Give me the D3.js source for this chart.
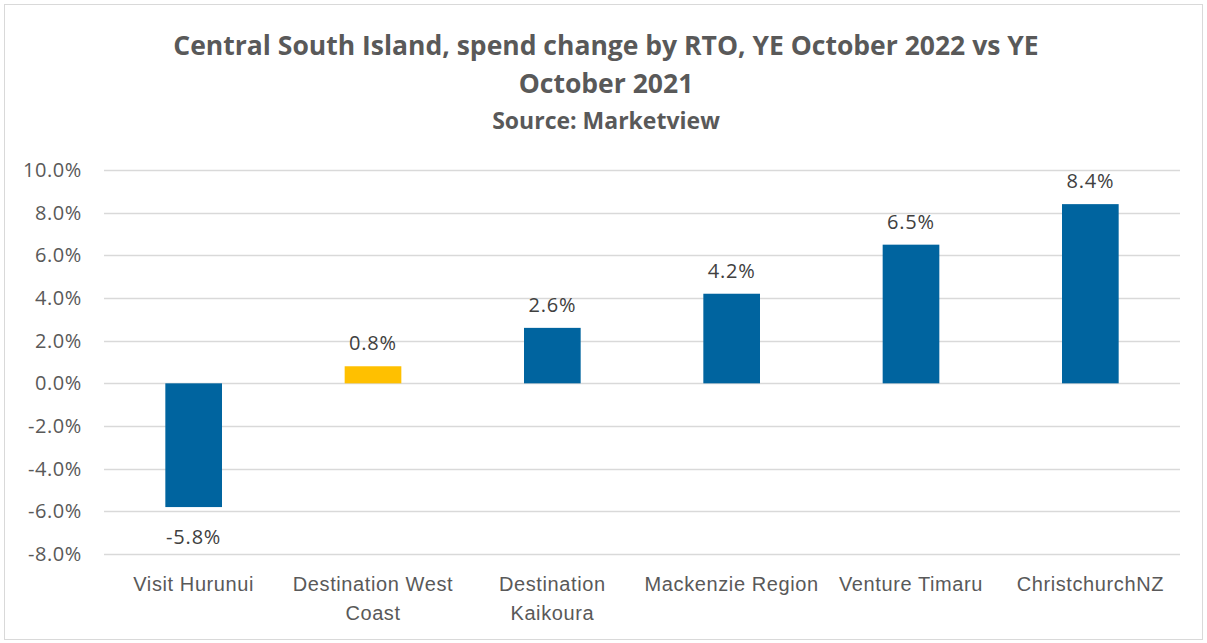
<!DOCTYPE html>
<html>
<head>
<meta charset="utf-8">
<script src="https://cdn.jsdelivr.net/npm/d3@7"></script>
<style>
  body { margin: 0; background: #fff; }
  svg { display: block; font-family: "Open Sans", "Noto Sans", sans-serif; }
</style>
</head>
<body>
<svg id="chart"></svg>
<script>
// data
const categories = ["Visit Hurunui", "Destination West Coast", "Destination Kaikoura",
  "Mackenzie Region", "Venture Timaru", "ChristchurchNZ"];
const values = [-5.8, 0.8, 2.6, 4.2, 6.5, 8.4];
const highlight = ["Destination West Coast"];
const yTicks = [-8, -6, -4, -2, 0, 2, 4, 6, 8, 10];

const W = 1207, H = 643;
const margin = { top: 170, right: 27, bottom: 89, left: 104 };

const svg = d3.select("#chart").attr("width", W).attr("height", H);

// chart border
svg.append("rect")
  .attr("x", 4.5).attr("y", 4.5)
  .attr("width", W - 9).attr("height", H - 8)
  .attr("fill", "#fff")
  .attr("stroke", "#d9d9d9");

// title
const title = svg.append("g").attr("text-anchor", "middle").attr("fill", "#595959")
  .style("font-weight", "bold");
title.append("text").attr("x", 606).attr("y", 55)
  .style("font-size", "26.5px")
  .text("Central South Island, spend change by RTO, YE October 2022 vs YE");
title.append("text").attr("x", 606).attr("y", 93)
  .style("font-size", "26.5px")
  .text("October 2021");
title.append("text").attr("x", 606).attr("y", 129)
  .style("font-size", "23px")
  .text("Source: Marketview");

const x = d3.scaleBand()
  .domain(categories)
  .range([margin.left, W - margin.right])
  .paddingInner(0.684)
  .paddingOuter(0.342);

const y = d3.scaleLinear()
  .domain([-8, 10])
  .range([H - margin.bottom, margin.top]);

// gridlines
svg.append("g")
  .selectAll("line")
  .data(yTicks)
  .join("line")
  .attr("x1", margin.left).attr("x2", W - margin.right)
  .attr("y1", d => Math.round(y(d)) + 0.5).attr("y2", d => Math.round(y(d)) + 0.5)
  .attr("stroke", "#d9d9d9").attr("stroke-width", 1.5);

// y axis labels
const yAxis = svg.append("g")
  .attr("transform", `translate(${margin.left - 22},0)`)
  .call(d3.axisLeft(y).tickValues(yTicks).tickSize(0).tickPadding(0)
    .tickFormat(d => d.toFixed(1) + "%"));
yAxis.select(".domain").remove();
yAxis.selectAll("text")
  .attr("fill", "#595959")
  .style("font-size", "20px")
  .style("letter-spacing", "0.6px")
  .style("font-family", "'Open Sans', sans-serif");

// bars
svg.append("g")
  .selectAll("rect")
  .data(values)
  .join("rect")
  .attr("x", (d, i) => x(categories[i]))
  .attr("width", x.bandwidth())
  .attr("y", d => y(Math.max(0, d)))
  .attr("height", d => Math.abs(y(d) - y(0)))
  .attr("fill", (d, i) => highlight.includes(categories[i]) ? "#FFC000" : "#00649F");

// data labels
svg.append("g")
  .selectAll("text")
  .data(values)
  .join("text")
  .attr("x", (d, i) => x(categories[i]) + x.bandwidth() / 2)
  .attr("y", d => d >= 0 ? y(d) - 16 : y(d) + 37)
  .attr("text-anchor", "middle")
  .attr("fill", "#404040")
  .style("font-size", "20px")
  .style("letter-spacing", "0.8px")
  .text(d => d.toFixed(1) + "%");

// x axis labels
const xAxis = svg.append("g")
  .attr("transform", `translate(0,${H - margin.bottom})`)
  .call(d3.axisBottom(x).tickSize(0).tickPadding(0));
xAxis.select(".domain").remove();
xAxis.selectAll("text").remove();

const wrapped = {
  "Destination West Coast": ["Destination West", "Coast"],
  "Destination Kaikoura": ["Destination", "Kaikoura"]
};
xAxis.selectAll(".tick").each(function (d) {
  const lines = wrapped[d] || [d];
  const t = d3.select(this).append("text")
    .attr("text-anchor", "middle")
    .attr("fill", "#595959")
    .style("font-size", "20px")
    .style("letter-spacing", "0.6px");
  lines.forEach((l, k) => {
    t.append("tspan").attr("x", 0).attr("y", 37 + k * 29).text(l);
  });
});
</script>
</body>
</html>
